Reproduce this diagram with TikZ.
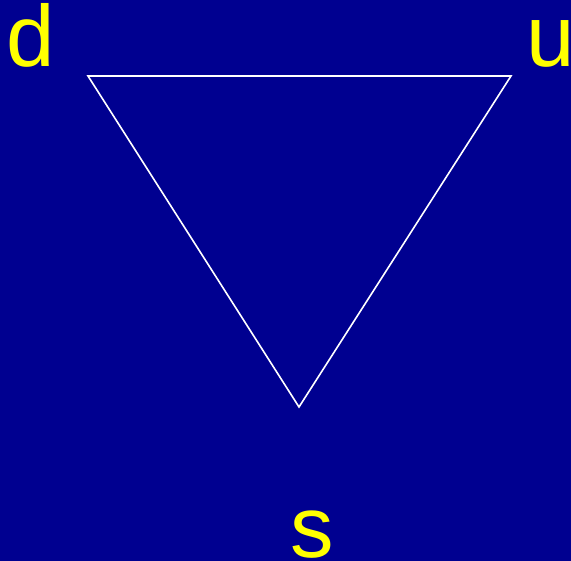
\documentclass[tikz,border=0pt]{standalone}
\usepackage{fontspec}
\setmainfont{Liberation Sans}
\definecolor{bgblue}{RGB}{0,0,144}
\definecolor{lblyellow}{RGB}{255,255,0}
\tikzset{
  lbl/.style={text=lblyellow, inner sep=0pt, anchor=base, font=\fontsize{87}{87}\selectfont},
  edge/.style={draw=white, line width=1.6pt, line join=miter}
}
\begin{document}
\begin{tikzpicture}[x=1pt,y=-1pt]
\fill[bgblue] (0,0) rectangle (571,561);
\useasboundingbox (0,0) rectangle (571,561);
\coordinate (D) at (88,76);
\coordinate (U) at (511,76);
\coordinate (S) at (299,407);
\draw[edge] (D) -- (U) -- (S) -- cycle;
\node[lbl] (dl) at (31,67) {d};
\node[lbl] (ul) at (551,67) {u};
\node[lbl] (sl) at (312,558) {s};
\end{tikzpicture}
\end{document}
